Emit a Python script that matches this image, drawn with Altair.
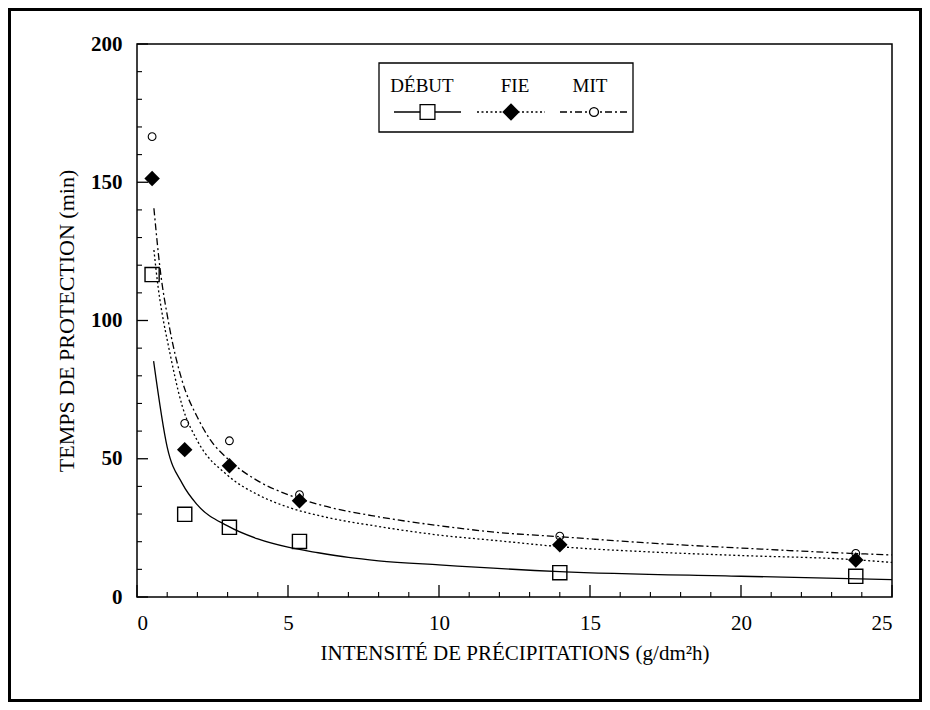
import altair as alt
import pandas as pd

# ---------------- data ----------------
series_names = ["DÉBUT", "FIE", "MIT"]

x_obs = [0.5, 1.58, 3.06, 5.38, 14.0, 23.8]
debut_obs = [116.6, 29.9, 25.2, 20.1, 8.8, 7.5]
fie_obs = [151.4, 53.3, 47.5, 34.8, 18.9, 13.4]
mit_obs = [166.5, 62.8, 56.5, 37.0, 22.0, 15.8]

debut_fit_x = [0.55, 1.0, 1.5, 2.0, 3.0, 4.0, 5.0, 6.0, 7.0, 8.0, 10.0, 14.0, 20.0, 25.0]
debut_fit_y = [85.3, 54.2, 41.0, 33.3, 25.7, 21.0, 18.0, 16.0, 14.3, 13.1, 11.6, 9.2, 7.5, 6.3]

fie_fit_x = [0.56, 0.7, 0.89, 1.0, 1.5, 2.0, 3.0, 4.0, 5.0, 6.0, 8.0, 10.0, 12.0, 14.0, 17.0, 20.0, 23.6, 25.0]
fie_fit_y = [125.5, 112, 99, 93, 69, 56.5, 44, 37, 32.5, 29.5, 25.5, 22.4, 20.3, 18.2, 16.3, 15.0, 13.6, 12.5]

mit_fit_x = [0.56, 0.75, 1.05, 1.5, 2.0, 2.43, 3.0, 4.0, 5.0, 6.0, 8.0, 10.0, 12.0, 14.0, 17.0, 20.0, 23.6, 25.0]
mit_fit_y = [140.6, 120, 99, 78, 65, 56.8, 50, 42, 37, 33.5, 29, 25.8, 23.3, 21.8, 19.5, 17.7, 15.8, 15.2]

x_major = [0, 5, 10, 15, 20, 25]
x_minor = [v for v in range(0, 26) if v % 5 != 0]
y_major = [0, 50, 100, 150, 200]
y_minor = [v for v in range(0, 201, 10) if v % 50 != 0]

x_title = "INTENSITÉ DE PRÉCIPITATIONS (g/dm²h)"
y_title = "TEMPS DE PROTECTION (min)"

# ---------------- layout ----------------
W, H = 755, 553
PAD = {"left": 129, "top": 36, "right": 30, "bottom": 105}
FONT = "Liberation Serif"

X = alt.X("x:Q", scale=alt.Scale(domain=[0, 25], nice=False, zero=True),
          axis=alt.Axis(values=x_major, ticks=False, domain=False, grid=False,
                        labelFont=FONT, labelFontSize=21, labelColor="black",
                        labelPadding=15, title=x_title, titleFont=FONT,
                        titleFontSize=21, titleFontWeight="normal",
                        titleColor="black", titlePadding=9, format="d"))
Y = alt.Y("y:Q", scale=alt.Scale(domain=[0, 200], nice=False, zero=True),
          axis=alt.Axis(values=y_major, ticks=False, domain=False, grid=False,
                        labelFont=FONT, labelFontSize=21, labelFontWeight="bold",
                        labelColor="black", labelPadding=15, title=y_title,
                        titleFont=FONT, titleFontSize=22, titleFontWeight="normal",
                        titleColor="black", titlePadding=12, format="d"))


def df(xs, ys):
    return pd.DataFrame({"x": xs, "y": ys})


DASH_FIE = [2, 2.5]
DASH_MIT = [7, 3, 2, 3]

line_debut = alt.Chart(df(debut_fit_x, debut_fit_y)).mark_line(
    color="black", strokeWidth=1.3, interpolate="monotone").encode(x=X, y=Y, order="x:Q")
line_fie = alt.Chart(df(fie_fit_x, fie_fit_y)).mark_line(
    color="black", strokeWidth=1.3, strokeDash=DASH_FIE, interpolate="monotone").encode(x=X, y=Y, order="x:Q")
line_mit = alt.Chart(df(mit_fit_x, mit_fit_y)).mark_line(
    color="black", strokeWidth=1.3, strokeDash=DASH_MIT, interpolate="monotone").encode(x=X, y=Y, order="x:Q")

pts_debut = alt.Chart(df(x_obs, debut_obs)).mark_point(
    shape="square", filled=False, size=200, color="black", strokeWidth=1.4, opacity=1).encode(x=X, y=Y)
pts_fie = alt.Chart(df(x_obs, fie_obs)).mark_point(
    shape="diamond", filled=True, size=240, color="black", opacity=1).encode(x=X, y=Y)
pts_mit = alt.Chart(df(x_obs, mit_obs)).mark_point(
    shape="circle", filled=False, size=60, color="black", strokeWidth=1.1, opacity=1).encode(x=X, y=Y)

# inward ticks
tx_major = alt.Chart(pd.DataFrame({"x": x_major})).mark_rule(color="black", strokeWidth=1.3).encode(
    x=X, y=alt.value(H), y2=alt.value(H - 12))
tx_minor = alt.Chart(pd.DataFrame({"x": x_minor})).mark_rule(color="black", strokeWidth=1.1).encode(
    x=X, y=alt.value(H), y2=alt.value(H - 5))
ty_major = alt.Chart(pd.DataFrame({"y": y_major})).mark_rule(color="black", strokeWidth=1.3).encode(
    y=Y, x=alt.value(0), x2=alt.value(11))
ty_minor = alt.Chart(pd.DataFrame({"y": y_minor})).mark_rule(color="black", strokeWidth=1.1).encode(
    y=Y, x=alt.value(0), x2=alt.value(5))

# legend box and entries
one = pd.DataFrame({"a": [0]})
LX0, LX1, LY0, LY1 = 242, 496, 19, 88
TEXT_Y, SYM_Y = 42, 68
legend_box = alt.Chart(one).mark_rect(fillOpacity=0, stroke="black", strokeWidth=1.3).encode(
    x=alt.value(LX0), x2=alt.value(LX1), y=alt.value(LY0), y2=alt.value(LY1))

entries = [
    (series_names[0], 285, 257, 324, None, "square", False, 220),
    (series_names[1], 378, 340, 408, DASH_FIE, "diamond", True, 300),
    (series_names[2], 453, 423, 491, DASH_MIT, "circle", False, 80),
]
legend_layers = [legend_box]
for name, tx, l0, l1, dash, shape, filled, size in entries:
    legend_layers.append(alt.Chart(one).mark_text(
        text=name, font=FONT, fontSize=19, color="black", align="center", baseline="middle").encode(
        x=alt.value(tx), y=alt.value(TEXT_Y)))
    rule_kw = dict(color="black", strokeWidth=1.3)
    if dash is not None:
        rule_kw["strokeDash"] = dash
    legend_layers.append(alt.Chart(one).mark_rule(**rule_kw).encode(
        x=alt.value(l0), x2=alt.value(l1), y=alt.value(SYM_Y)))
    mk = dict(shape=shape, filled=filled, size=size, color="black", opacity=1)
    if not filled:
        mk["strokeWidth"] = 1.3
        mk["fill"] = "white"
        mk["fillOpacity"] = 1
    legend_layers.append(alt.Chart(one).mark_point(**mk).encode(
        x=alt.value((l0 + l1) / 2), y=alt.value(SYM_Y)))

# outer frame around the whole figure
frame = alt.Chart(one).mark_rect(fillOpacity=0, stroke="black", strokeWidth=3).encode(
    x=alt.value(-PAD["left"] + 1.5), x2=alt.value(W + PAD["right"] - 1.5),
    y=alt.value(-PAD["top"] + 1.5), y2=alt.value(H + PAD["bottom"] - 1.5))

chart = alt.layer(
    line_debut, line_fie, line_mit,
    pts_debut, pts_fie, pts_mit,
    tx_major, tx_minor, ty_major, ty_minor,
    *legend_layers, frame
).properties(
    width=W, height=H,
    autosize=alt.AutoSizeParams(type="none"),
    padding=PAD,
    background="white",
).configure_view(stroke="black", strokeWidth=1.5)

chart.save("out.html", embed_options={"renderer": "svg", "actions": False})
